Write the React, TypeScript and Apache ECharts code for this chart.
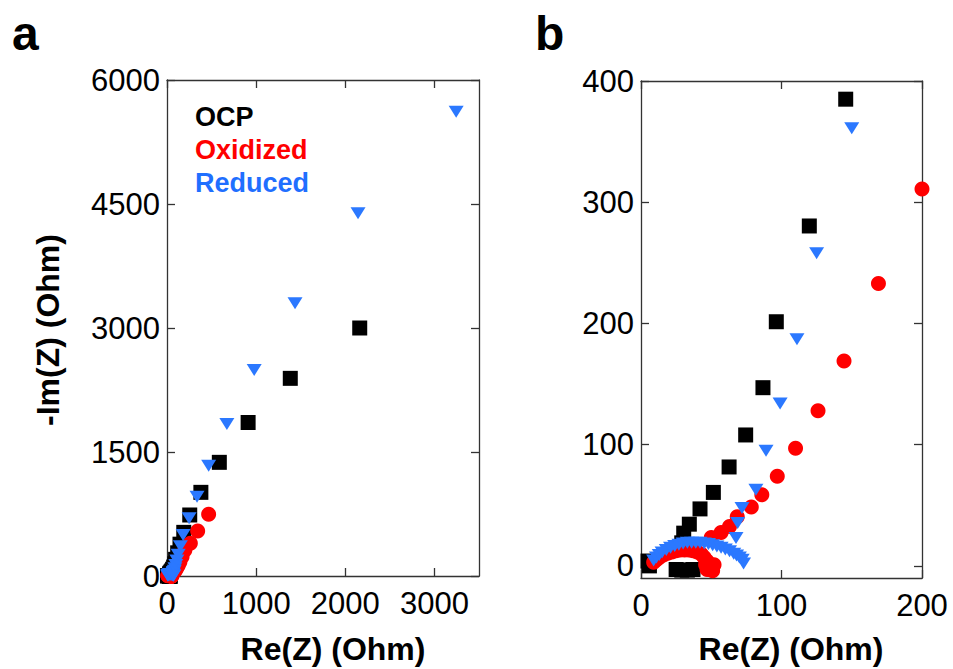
import React, { useEffect, useRef } from "react";
import * as echarts from "echarts";

// OCP (black squares)
const ocpRe = [5, 6, 25, 29, 33, 37, 29, 30.4, 34.4, 42, 51.5, 62.7, 74.5, 86.8, 96.3, 119.8, 145.7, 188, 255, 380, 587, 910, 1383, 2162];
const ocpIm = [4, 0, -3, -3.5, -3.5, -3, 19, 27, 34.4, 47, 60.6, 81.6, 108, 147, 201.4, 280.4, 385, 528, 738, 1012, 1375, 1857, 2391, 3000];

// Oxidized (red circles)
const oxRe = [9, 11, 13, 16, 19, 22, 25, 28, 31, 34, 37, 40, 43, 45, 47, 46, 48, 50, 52, 49, 47, 51, 50, 57, 63, 68.5, 78.5, 86, 97, 110, 126, 144.5, 169, 200, 262, 344, 467];
const oxIm = [3, 5, 7, 9, 10.5, 11.5, 12.5, 13, 13, 13, 12.5, 11.5, 9.5, 7, 4, 1, 1, -1, 1, -3, -3, -4, 23.5, 27.5, 32.5, 40.5, 48.5, 58.7, 74, 97, 128, 169, 233, 311, 395, 544, 746];

// Reduced (blue down-triangles)
const redRe = [9, 11, 13, 15, 18, 21, 24, 27, 30, 33, 36, 39, 42, 45, 48, 51, 54, 57, 60, 63, 66, 68, 70, 72, 73, 67.6, 68.8, 71.9, 81.8, 89, 99, 111, 125, 150, 181, 248, 337, 467, 672, 978, 1436, 2143, 3244];
const redIm = [4.5, 7, 9, 11, 13, 15, 16.5, 17.5, 18.5, 19, 19, 19, 19, 18.5, 18, 17, 16, 15, 13.5, 12, 10, 8.5, 7, 5, 2, 23, 35.3, 47.7, 62.8, 95, 134, 187, 258, 361, 496, 698, 959, 1334, 1839, 2492, 3299, 4387, 5617];

const xTicksA = [0, 1000, 2000, 3000];
const yTicksA = [0, 1500, 3000, 4500, 6000];
const xTicksB = [0, 100, 200];
const yTicksB = [0, 100, 200, 300, 400];

const legendNames = ["OCP", "Oxidized", "Reduced"];
const legendColors = ["#000000", "#ff0000", "#1f6fff"];

const FONT = "'Liberation Sans', Arial, Helvetica, sans-serif";

function pairs(re: number[], im: number[]) {
  return re.map((x, i) => [x, im[i]]);
}
function within(pts: number[][], xMax: number, yMax: number) {
  return pts.filter((p) => p[0] <= xMax && p[1] <= yMax);
}

export default function App() {
  const ref = useRef<HTMLDivElement>(null);
  useEffect(() => {
    if (!ref.current) return;
    const chart = echarts.init(ref.current, undefined, { renderer: "svg" });
    const lineStyle = { color: "#333", width: 1.3 };
    const tickStyle = { color: "#333", width: 1.3 };
    const labelStyle = { fontSize: 31, color: "#000", fontFamily: FONT };

    const mkX = (grid: number, min: number, max: number, ticks: number[], pos: "bottom" | "top") => ({
      type: "value",
      gridIndex: grid,
      position: pos,
      min,
      max,
      axisLine: { show: true, onZero: false, lineStyle },
      axisTick: { show: true, inside: true, length: 8, lineStyle: tickStyle, customValues: ticks },
      axisLabel: pos === "bottom"
        ? { show: true, ...labelStyle, margin: 12, customValues: ticks, formatter: (v: number) => String(v) }
        : { show: false },
      splitLine: { show: false },
    });
    const mkY = (grid: number, min: number, max: number, ticks: number[], pos: "left" | "right") => ({
      type: "value",
      gridIndex: grid,
      position: pos,
      min,
      max,
      axisLine: { show: true, onZero: false, lineStyle },
      axisTick: { show: true, inside: true, length: 8, lineStyle: tickStyle, customValues: ticks },
      axisLabel: pos === "left"
        ? { show: true, ...labelStyle, margin: 7, customValues: ticks, formatter: (v: number) => String(v) }
        : { show: false },
      splitLine: { show: false },
    });

    const ocp = pairs(ocpRe, ocpIm);
    const ox = pairs(oxRe, oxIm);
    const rd = pairs(redRe, redIm);

    const sq = { symbol: "rect", symbolSize: 15, itemStyle: { color: "#000000", opacity: 1 } };
    const ci = { symbol: "circle", symbolSize: 15, itemStyle: { color: "#ff0000", opacity: 1 } };
    const tr = { symbol: "triangle", symbolRotate: 180, symbolSize: [15, 12], itemStyle: { color: "#2b78ff", opacity: 1 } };

    const base = { type: "scatter", clip: false, silent: true, emphasis: { disabled: true } };

    const legendYs = [117, 150, 183];

    chart.setOption({
      animation: false,
      backgroundColor: "#ffffff",
      grid: [
        { left: 167, top: 80, width: 312, height: 496 },
        { left: 641, top: 81, width: 281, height: 497 },
      ],
      xAxis: [
        mkX(0, 0, 3500, xTicksA, "bottom"),
        mkX(0, 0, 3500, xTicksA, "top"),
        mkX(1, 0, 200, xTicksB, "bottom"),
        mkX(1, 0, 200, xTicksB, "top"),
      ],
      yAxis: [
        mkY(0, 0, 6000, yTicksA, "left"),
        mkY(0, 0, 6000, yTicksA, "right"),
        mkY(1, -10, 400, yTicksB, "left"),
        mkY(1, -10, 400, yTicksB, "right"),
      ],
      series: [
        { ...base, ...sq, name: "OCP", xAxisIndex: 0, yAxisIndex: 0, data: ocp, z: 2 },
        { ...base, ...ci, name: "Oxidized", xAxisIndex: 0, yAxisIndex: 0, data: ox, z: 3 },
        { ...base, ...tr, name: "Reduced", xAxisIndex: 0, yAxisIndex: 0, data: rd, z: 4 },
        { ...base, ...sq, name: "OCP b", xAxisIndex: 2, yAxisIndex: 2, data: within(ocp, 205, 405), z: 2 },
        { ...base, ...ci, name: "Oxidized b", xAxisIndex: 2, yAxisIndex: 2, data: within(ox, 205, 405), z: 3 },
        { ...base, ...tr, name: "Reduced b", xAxisIndex: 2, yAxisIndex: 2, data: within(rd, 205, 405), z: 4 },
      ],
      graphic: [
        { type: "text", x: 12, y: 33, style: { text: "a", fontSize: 48, fontWeight: "bold", fontFamily: FONT, fill: "#000", textAlign: "left", textVerticalAlign: "middle" } },
        { type: "text", x: 535, y: 33, style: { text: "b", fontSize: 48, fontWeight: "bold", fontFamily: FONT, fill: "#000", textAlign: "left", textVerticalAlign: "middle" } },
        ...legendNames.map((n, i) => ({
          type: "text", x: 195, y: legendYs[i],
          style: { text: n, fontSize: 27, fontWeight: "bold", fontFamily: FONT, fill: legendColors[i], textAlign: "left", textVerticalAlign: "middle" },
        })),
        { type: "text", x: 333, y: 649, style: { text: "Re(Z) (Ohm)", fontSize: 32, fontWeight: "bold", fontFamily: FONT, fill: "#000", textAlign: "center", textVerticalAlign: "middle" } },
        { type: "text", x: 791, y: 649, style: { text: "Re(Z) (Ohm)", fontSize: 32, fontWeight: "bold", fontFamily: FONT, fill: "#000", textAlign: "center", textVerticalAlign: "middle" } },
        { type: "text", x: 48, y: 330, rotation: Math.PI / 2, style: { text: "-Im(Z) (Ohm)", fontSize: 32, fontWeight: "bold", fontFamily: FONT, fill: "#000", textAlign: "center", textVerticalAlign: "middle" } },
      ],
    });
    return () => chart.dispose();
  }, []);
  return <div ref={ref} style={{ width: 953, height: 669, position: "absolute", left: 0, top: 0 }} />;
}
